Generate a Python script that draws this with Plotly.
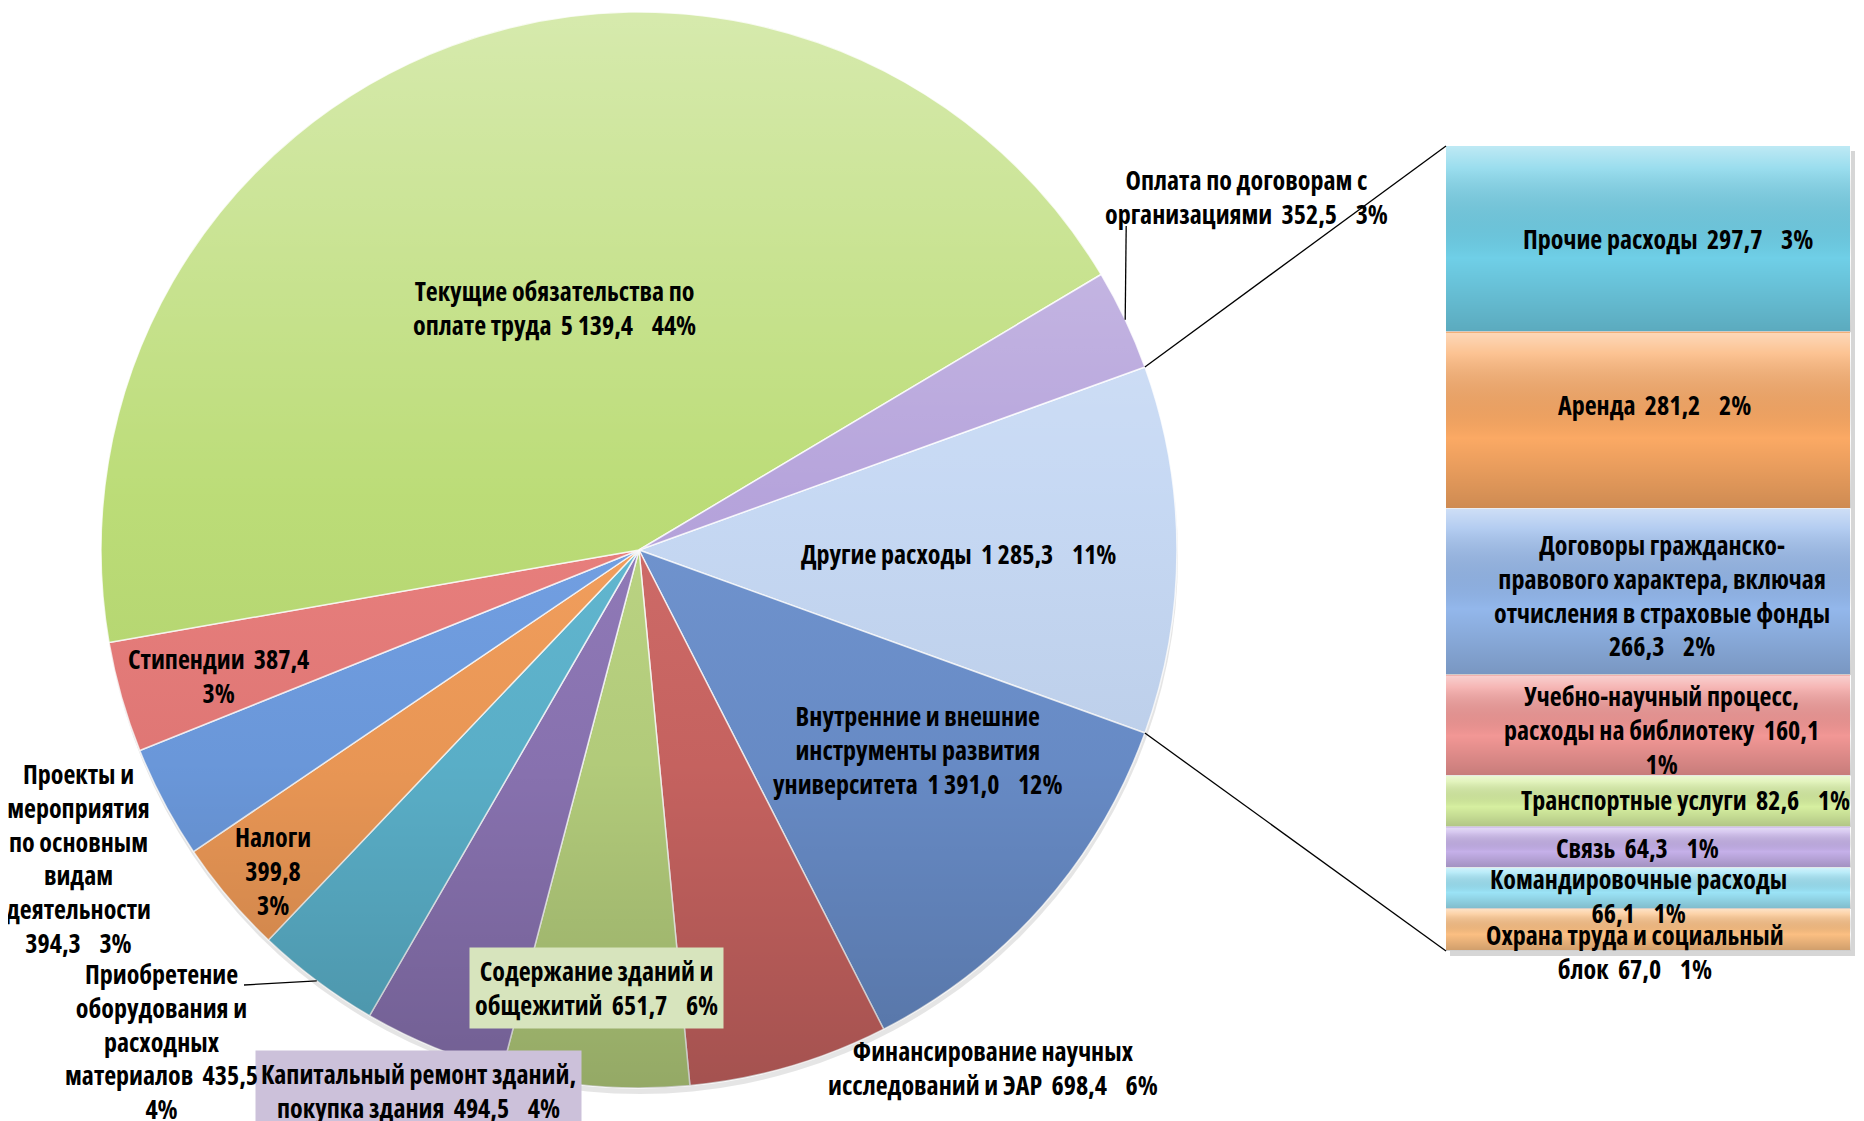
import math
import base64
import plotly.graph_objects as go

# ---------------- DATA ----------------
# Pie categories, clockwise starting from the aggregated "other" slice
pie_labels = [
    "Другие расходы",
    "Внутренние и внешние<br>инструменты развития<br>университета",
    "Финансирование научных<br>исследований и ЭАР",
    "Содержание зданий и<br>общежитий",
    "Капитальный ремонт зданий,<br>покупка здания",
    "Приобретение<br>оборудования и<br>расходных<br>материалов",
    "Налоги",
    "Проекты и<br>мероприятия<br>по основным<br>видам<br>деятельности",
    "Стипендии",
    "Текущие обязательства по<br>оплате труда",
    "Оплата по договорам с<br>организациями",
]
pie_values = [1285.3, 1391.0, 698.4, 651.7, 494.5, 435.5, 399.8, 394.3, 387.4, 5139.4, 352.5]

# Breakdown of "Другие расходы" (bar, from top to bottom)
bar_labels = [
    "Прочие расходы",
    "Аренда",
    "Договоры гражданско-<br>правового характера, включая<br>отчисления в страховые фонды",
    "Учебно-научный процесс,<br>расходы на библиотеку",
    "Транспортные услуги",
    "Связь",
    "Командировочные расходы",
    "Охрана труда и социальный<br>блок",
]
bar_values = [297.7, 281.2, 266.3, 160.1, 82.6, 64.3, 66.1, 67.0]

# ---------------- STYLE ----------------
W, H = 1864, 1121
OFF = 8  # page body margin of the saved html
FONT = "Open Sans, DejaVu Sans Condensed, sans-serif"
STRETCH = "75%"
FS = 26

pie_colors = ["#C4D7F3", "#6B90CD", "#CD6663", "#B9D37F", "#8D76B6", "#5DB5CF",
              "#F29C58", "#6E9DE2", "#E87B79", "#B9DB72", "#B3A0DA"]
bar_colors = ["#6FCFE7", "#FBA964", "#93B7EB", "#F29795", "#D6EFA0", "#C5B0E9",
              "#9BE3F6", "#FBBF82"]

pie_sep1 = ["  ", "  ", "  ", "  ", "  ", "  ", "<br>", "<br>", "  ", "  ", "  "]
pie_sep2 = ["    ", "    ", "    ", "    ", "    ", "<br>", "<br>", "    ", "<br>", "    ", "    "]
# label centres in screen pixels
pie_label_px = [(959, 554), (918, 750), (993, 1068), (596, 988), (418, 1091), (161, 1041),
                (273, 871), (78, 858), (218, 676), (554, 308), (1246, 197)]
pie_label_bg = [None, None, None, "#D7E4BD", "#CCC1DA", None, None, None, None, None, None]

bar_sep1 = ["  ", "  ", "<br>", "  ", "  ", "  ", "<br>", "  "]
bar_sep2 = ["    ", "    ", "    ", "<br>", "    ", "    ", "    ", "    "]
bar_label_shift = [(19, 0), (6, 16), (13, -4), (13, -4), (37, 2), (-11, 0), (-10, -8), (-14, -22)]

# pie placement (screen pixels)
pie_x0, pie_x1 = 101, 1177
pie_y0, pie_y1 = 12, 1088
# bar placement (screen pixels)
bar_x0, bar_x1 = 1446, 1851
bar_y0, bar_y1 = 146, 951


def fmt(v):
    return f"{v:,.1f}".replace(",", " ").replace(".", ",")


total = sum(pie_values)
other_total = sum(bar_values)


def pct(v):
    return f"{round(v / total * 100)}%"


def narrow(text):
    return "<br>".join(f"<span style='font-stretch:{STRETCH}'>{ln}</span>"
                       for ln in text.split("<br>"))


def pxx(x):
    return (x - OFF) / W


def pxy(y):
    return 1 - (y - OFF) / H


def svg_uri(svg):
    return "data:image/svg+xml;base64," + base64.b64encode(svg.encode("utf-8")).decode("ascii")


# rotate so that the "other" slice faces the bar (centered at 3 o'clock)
other_deg = pie_values[0] / total * 360
rotation = 90 - other_deg / 2

fig = go.Figure()

fig.add_trace(go.Pie(
    labels=[l.replace("<br>", " ") for l in pie_labels],
    values=pie_values,
    sort=False,
    direction="clockwise",
    rotation=rotation,
    textinfo="none",
    hoverinfo="label+value+percent",
    marker=dict(colors=pie_colors, line=dict(color="rgba(255,255,255,0.8)", width=1.5)),
    domain=dict(x=[pxx(pie_x0), pxx(pie_x1)], y=[pxy(pie_y1), pxy(pie_y0)]),
    showlegend=False,
))

# stacked bar (reversed axis so the first item is on top)
for lab, val, col in zip(bar_labels, bar_values, bar_colors):
    fig.add_trace(go.Bar(
        x=[0], y=[val], width=1, name=lab.replace("<br>", " "),
        marker=dict(color=col, line=dict(color="rgba(255,255,255,0.9)", width=1.2)),
        showlegend=False, hoverinfo="name+y",
    ))

label_font = dict(family=FONT, size=FS, color="black", weight="bold")

annotations = []
for lab, val, s1, s2, (lx, ly), bg in zip(pie_labels, pie_values, pie_sep1, pie_sep2,
                                          pie_label_px, pie_label_bg):
    annotations.append(dict(
        x=pxx(lx), y=pxy(ly), xref="paper", yref="paper", xanchor="center", yanchor="middle",
        text=narrow(f"{lab}{s1}{fmt(val)}{s2}{pct(val)}"), showarrow=False, align="center",
        font=label_font, bgcolor=bg if bg else "rgba(0,0,0,0)", borderpad=5,
    ))

cum = 0.0
seg_bounds = []
for lab, val, s1, s2, (dx, dy) in zip(bar_labels, bar_values, bar_sep1, bar_sep2, bar_label_shift):
    mid = cum + val / 2
    seg_bounds.append((cum, cum + val))
    cum += val
    annotations.append(dict(
        x=0, y=mid, xref="x", yref="y", xanchor="center", yanchor="middle",
        text=narrow(f"{lab}{s1}{fmt(val)}{s2}{pct(val)}"), showarrow=False, align="center",
        xshift=dx, yshift=dy, font=label_font,
    ))

# pie geometry in screen pixels
cx, cy = (pie_x0 + pie_x1) / 2, (pie_y0 + pie_y1) / 2
r = min(pie_x1 - pie_x0, pie_y1 - pie_y0) / 2


def edge_point(deg_cw_from_north, rad=r):
    a = math.radians(deg_cw_from_north)
    return cx + rad * math.sin(a), cy - rad * math.cos(a)


line_style = dict(color="black", width=1.3)
shapes = []
# soft shadows
shapes.append(dict(type="circle", xref="paper", yref="paper", layer="below",
                   x0=pxx(pie_x0 + 1), x1=pxx(pie_x1 + 1), y0=pxy(pie_y1 + 6), y1=pxy(pie_y0 + 6),
                   fillcolor="rgba(0,0,0,0.10)", line=dict(width=0)))
shapes.append(dict(type="rect", xref="paper", yref="paper", layer="below",
                   x0=pxx(bar_x0 + 4), x1=pxx(bar_x1 + 4), y0=pxy(bar_y1 + 5), y1=pxy(bar_y0 + 5),
                   fillcolor="rgba(0,0,0,0.16)", line=dict(width=0)))

# connector lines from the "other" slice to the bar
top_pt = edge_point(rotation)
bot_pt = edge_point(rotation + other_deg)
for (px, py), (bx, by) in [(top_pt, (bar_x0, bar_y0)), (bot_pt, (bar_x0, bar_y1))]:
    shapes.append(dict(type="line", xref="paper", yref="paper", x0=pxx(px), y0=pxy(py),
                       x1=pxx(bx), y1=pxy(by), line=line_style))

# leader lines for two outside labels
mid_deg = []
acc = 0.0
for v in pie_values:
    mid_deg.append(rotation + (acc + v / 2) / total * 360)
    acc += v
ex, ey = edge_point(mid_deg[10])
shapes.append(dict(type="line", xref="paper", yref="paper", x0=pxx(ex), y0=pxy(ey),
                   x1=pxx(ex + 1), y1=pxy(226), line=line_style))
ex, ey = edge_point(mid_deg[5])
shapes.append(dict(type="line", xref="paper", yref="paper", x0=pxx(ex), y0=pxy(ey),
                   x1=pxx(244), y1=pxy(985), line=line_style))

# glossy shading overlays (decorative)
pie_svg = ("<svg xmlns='http://www.w3.org/2000/svg' width='200' height='200' viewBox='0 0 200 200'>"
           "<defs><linearGradient id='g' x1='0' y1='0' x2='0' y2='1'>"
           "<stop offset='0' stop-color='#ffffff' stop-opacity='0.42'/>"
           "<stop offset='0.45' stop-color='#ffffff' stop-opacity='0.04'/>"
           "<stop offset='0.7' stop-color='#000000' stop-opacity='0.04'/>"
           "<stop offset='1' stop-color='#000000' stop-opacity='0.2'/>"
           "</linearGradient></defs><circle cx='100' cy='100' r='100' fill='url(#g)'/></svg>")
bar_svg = ("<svg xmlns='http://www.w3.org/2000/svg' width='100' height='100' viewBox='0 0 100 100' "
           "preserveAspectRatio='none'>"
           "<defs><linearGradient id='g' x1='0' y1='0' x2='0' y2='1'>"
           "<stop offset='0' stop-color='#ffffff' stop-opacity='0.55'/>"
           "<stop offset='0.12' stop-color='#ffffff' stop-opacity='0.3'/>"
           "<stop offset='0.6' stop-color='#000000' stop-opacity='0'/>"
           "<stop offset='1' stop-color='#000000' stop-opacity='0.18'/>"
           "</linearGradient></defs><rect x='0' y='0' width='100' height='100' fill='url(#g)'/></svg>")

images = [dict(source=svg_uri(pie_svg), xref="paper", yref="paper",
               x=pxx(pie_x0), y=pxy(pie_y0), sizex=(pie_x1 - pie_x0) / W,
               sizey=(pie_y1 - pie_y0) / H, sizing="stretch", xanchor="left", yanchor="top",
               layer="above", opacity=1)]
bar_h_px = bar_y1 - bar_y0
for a, b in seg_bounds:
    top_px = bar_y0 + a / other_total * bar_h_px
    h_px = (b - a) / other_total * bar_h_px
    images.append(dict(source=svg_uri(bar_svg), xref="paper", yref="paper",
                       x=pxx(bar_x0), y=pxy(top_px), sizex=(bar_x1 - bar_x0) / W, sizey=h_px / H,
                       sizing="stretch", xanchor="left", yanchor="top", layer="above", opacity=1))

fig.update_layout(
    width=W, height=H,
    margin=dict(l=0, r=0, t=0, b=0),
    paper_bgcolor="white", plot_bgcolor="white",
    barmode="stack", bargap=0,
    xaxis=dict(domain=[pxx(bar_x0), pxx(bar_x1)], range=[-0.5, 0.5], visible=False, fixedrange=True),
    yaxis=dict(domain=[pxy(bar_y1), pxy(bar_y0)], range=[other_total, 0], visible=False,
               fixedrange=True),
    annotations=annotations,
    shapes=shapes,
    images=images,
    showlegend=False,
)

fig.write_html("out.html")
